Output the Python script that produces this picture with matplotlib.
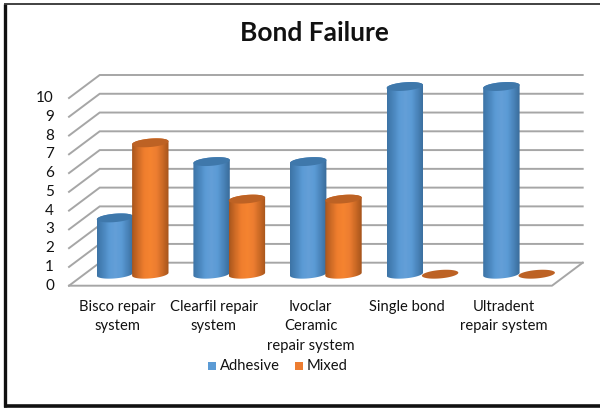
import numpy as np
import matplotlib
matplotlib.use('Agg')
import matplotlib.pyplot as plt
from matplotlib.colors import LinearSegmentedColormap
from matplotlib.patches import Polygon, Rectangle

categories = ['Bisco repair\nsystem', 'Clearfil repair\nsystem', 'Ivoclar\nCeramic\nrepair system',
              'Single bond', 'Ultradent\nrepair system']
adhesive = [3, 6, 6, 10, 10]
mixed = [7, 4, 4, 0, 0]
yticks = list(range(0, 11))

plt.rcParams['font.family'] = ['Lato', 'DejaVu Sans']

W, H = 600, 411
X0, Y0 = 69.0, 285.7      # front corner of the floor, pixels
CAT = 96.6                # pixels per category
UNIT = 18.77              # pixels per value unit
DX, DY = 30.7 / CAT, 23.0 / UNIT   # depth of the box

fig = plt.figure(figsize=(6, 4.11), dpi=100)
ax = fig.add_axes([0, 0, 1, 1])
ax.set_xlim(-X0 / CAT, (W - X0) / CAT)
ax.set_ylim((Y0 - H) / UNIT, Y0 / UNIT)
ax.axis('off')

# outer frame, no right side in the original
for xs, ys, lw, col in [((5.2, 5.2), (3.5, 407), 2.4, '#111111'), ((4, 600), (405.6, 405.6), 2.6, '#111111'),
                        ((4, 600), (4, 4), 1.3, '#333333')]:
    ax.plot([(x - X0) / CAT for x in xs], [(Y0 - y) / UNIT for y in ys], color=col, lw=lw,
            solid_capstyle='butt', zorder=1)

# walls and floor
grid = '#a6a6a6'
n = len(categories)
for v in yticks:
    ax.plot([0, DX, n + DX], [v, v + DY, v + DY], color=grid, lw=1.4, zorder=2, solid_joinstyle='miter')
    ax.text(-15 / CAT, v, str(v), ha='right', va='center', fontsize=11, color='#111111')
ax.plot([0, n, n + DX], [0, 0, DY], color=grid, lw=1.4, zorder=2)

blue = LinearSegmentedColormap.from_list('b', ['#3d74a6', '#4a86bd', '#5b9bd5', '#649fd8', '#5b9bd5', '#4a84ba', '#396c9a'])
orange = LinearSegmentedColormap.from_list('o', ['#a9561d', '#d06c26', '#f07e2e', '#f58430', '#ed7d31', '#cc6a25', '#a5541c'])

A = 18.2 / CAT
B = 4.2 / UNIT
K = 1.5 / UNIT
t = np.linspace(0, 2 * np.pi, 120)


def cylinder(cx, v, cmap, top, z):
    cy = DY / 2
    if v > 0:
        tt = np.linspace(0, np.pi, 60)
        # top half arc of the lid, then bottom half arc of the base
        xs = np.r_[cx + A * np.cos(tt), cx + A * np.cos(tt + np.pi)]
        ys = np.r_[cy + v + B * np.sin(tt) + K * np.cos(tt),
                   cy + B * np.sin(tt + np.pi) + K * np.cos(tt + np.pi)]
        body = Polygon(np.c_[xs, ys], closed=True, fc='none', ec='none', zorder=z)
        ax.add_patch(body)
        grad = np.linspace(0, 1, 64).reshape(1, -1)
        im = ax.imshow(grad, cmap=cmap, extent=[cx - A, cx + A, cy - 1, cy + v + 1], aspect='auto',
                       zorder=z, interpolation='bilinear')
        im.set_clip_path(body)
    lid = np.c_[cx + A * np.cos(t), cy + v + B * np.sin(t) + K * np.cos(t)]
    ax.add_patch(Polygon(lid, closed=True, fc=top, ec='none', zorder=z + 0.1))


for i in range(n):
    c = i + 0.5 + DX / 2
    cylinder(c - A * 0.97, adhesive[i], blue, '#3f78ab', 3 + i)
    cylinder(c + A * 0.97, mixed[i], orange, '#bd6224', 3.5 + i)
    ax.text(i + 0.5, (Y0 - 299.5) / UNIT, categories[i], ha='center', va='top', fontsize=10.6,
            color='#111111', linespacing=1.52)
ax.set_xlim(-X0 / CAT, (W - X0) / CAT)
ax.set_ylim((Y0 - H) / UNIT, Y0 / UNIT)

ax.text((314 - X0) / CAT, (Y0 - 33) / UNIT, 'Bond Failure', ha='center', va='center', fontsize=19,
        fontweight='bold', color='#111111')

# legend
for px, col, label in [(208, '#5b9bd5', 'Adhesive'), (295, '#ed7d31', 'Mixed')]:
    ax.add_patch(Rectangle(((px - X0) / CAT, (Y0 - 370) / UNIT), 8 / CAT, 8 / UNIT, fc=col, ec='none'))
    ax.text((px + 12 - X0) / CAT, (Y0 - 366) / UNIT, label, ha='left', va='center', fontsize=10.6, color='#111111')

fig.savefig('out.png', dpi=100)
